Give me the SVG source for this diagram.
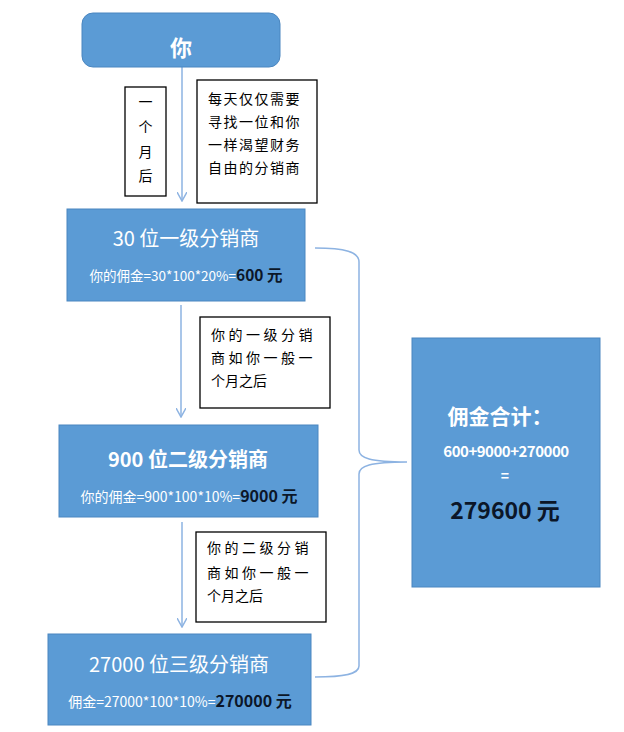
<svg xmlns="http://www.w3.org/2000/svg" width="624" height="732" viewBox="0 0 624 732">
<style>
.box{fill:#5B9BD5;stroke:#4A86C0;stroke-width:1}
.note{fill:#fff;stroke:#000;stroke-width:1.3}
.t{font-family:"Noto Sans CJK SC","Liberation Sans",sans-serif;fill:#fff;text-anchor:middle}
.n{font-family:"Noto Sans CJK SC","Liberation Sans",sans-serif;fill:#000;font-size:14px}
.k{fill:#0b1628;font-weight:bold}
.conn{fill:none;stroke:#8DB3E2;stroke-width:1.5}
</style>
<defs>
<marker id="ah" viewBox="0 0 10 10" refX="9" refY="5" markerWidth="10" markerHeight="10" markerUnits="userSpaceOnUse" orient="auto">
<path d="M0,0 L9,5 L0,10" fill="none" stroke="#8DB3E2" stroke-width="1.5"/>
</marker>
</defs>
<rect width="624" height="732" fill="#fff"/>
<g id="connectors">
<line class="conn" x1="182" y1="67" x2="182" y2="201" marker-end="url(#ah)"/>
<line class="conn" x1="181" y1="305" x2="181" y2="417" marker-end="url(#ah)"/>
<line class="conn" x1="182" y1="522" x2="182" y2="627" marker-end="url(#ah)"/>
<path class="conn" d="M315,248 C345,248 359,252 359,262 L359,450 C359,458 370,462 407,462 C370,462 359,466 359,474 L359,666 C359,674 345,677 315,677"/>
</g>
<g id="you">
<rect class="box" x="82" y="13" width="198" height="54" rx="11"/>
<text class="t" x="181" y="56" font-size="22" font-weight="bold">你</text>
</g>
<g id="note-month">
<rect class="note" x="125" y="87" width="41" height="109"/>
<text class="n" x="145.5" y="107" text-anchor="middle">一</text>
<text class="n" x="145.5" y="132" text-anchor="middle">个</text>
<text class="n" x="145.5" y="157" text-anchor="middle">月</text>
<text class="n" x="145.5" y="181" text-anchor="middle">后</text>
</g>
<g id="note-daily">
<rect class="note" x="197" y="80" width="120" height="123"/>
<text class="n" x="208" y="104" letter-spacing="1.5">每天仅仅需要</text>
<text class="n" x="208" y="127" letter-spacing="1.5">寻找一位和你</text>
<text class="n" x="208" y="150" letter-spacing="1.5">一样渴望财务</text>
<text class="n" x="208" y="173" letter-spacing="1.5">自由的分销商</text>
</g>
<g id="level1">
<rect class="box" x="67" y="209" width="238" height="92"/>
<text class="t" x="186" y="246" font-size="20">30 位一级分销商</text>
<text class="t" x="186" y="281" font-size="13.5">你的佣金=30*100*20%=<tspan class="k" font-size="15.5">600 元</tspan></text>
</g>
<g id="note-l1">
<rect class="note" x="200" y="317" width="130" height="91"/>
<text class="n" x="211" y="340" letter-spacing="3.5">你的一级分销</text>
<text class="n" x="211" y="363" letter-spacing="3.5">商如你一般一</text>
<text class="n" x="211" y="386">个月之后</text>
</g>
<g id="level2">
<rect class="box" x="59" y="425" width="259" height="92"/>
<text class="t" x="188" y="467" font-size="20" font-weight="bold">900 位二级分销商</text>
<text class="t" x="189" y="502" font-size="14">你的佣金=900*100*10%=<tspan class="k" font-size="16">9000 元</tspan></text>
</g>
<g id="note-l2">
<rect class="note" x="196" y="532" width="130" height="90"/>
<text class="n" x="207" y="553" letter-spacing="3.5">你的二级分销</text>
<text class="n" x="207" y="578" letter-spacing="3.5">商如你一般一</text>
<text class="n" x="207" y="601">个月之后</text>
</g>
<g id="level3">
<rect class="box" x="48" y="634" width="263" height="91"/>
<text class="t" x="179" y="672" font-size="20">27000 位三级分销商</text>
<text class="t" x="180" y="707" font-size="14">佣金=27000*100*10%=<tspan class="k" font-size="16">270000 元</tspan></text>
</g>
<g id="total">
<rect class="box" x="412" y="338" width="188" height="249"/>
<text class="t" x="500" y="424" font-size="21" font-weight="bold">佣金合计：</text>
<text class="t" x="506" y="457" font-size="15" font-weight="bold" letter-spacing="-0.5">600+9000+270000</text>
<text class="t" x="505" y="481" font-size="14" font-weight="bold">=</text>
<text class="t" x="505" y="519" font-size="23" font-weight="bold" style="fill:#0b1628">279600 元</text>
</g>
</svg>
